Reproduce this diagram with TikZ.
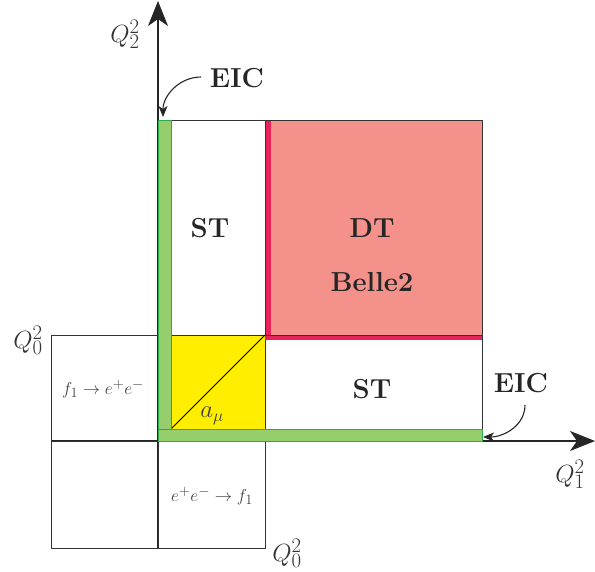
\documentclass[tikz,border=0pt]{standalone}
\usepackage{fontspec}
\usetikzlibrary{arrows.meta}
\definecolor{salmon}{HTML}{F4918A}
\definecolor{crim}{HTML}{E8225A}
\definecolor{bandfill}{HTML}{96CE6E}
\definecolor{bandline}{HTML}{2EA84C}
\definecolor{yel}{HTML}{FFEE00}
\definecolor{gridc}{HTML}{333333}
\tikzset{
  cell/.style={draw=gridc, line width=1pt, inner sep=0pt, outer sep=0pt, rectangle},
  big/.style={font=\fontsize{27.5}{32}\selectfont\bfseries, text=black!85, inner sep=1pt},
  small/.style={font=\fontsize{19}{23}\selectfont, text=black!75, inner sep=1pt},
  amu/.style={font=\fontsize{23}{27}\selectfont, text=black!75, inner sep=1pt},
  qlab/.style={font=\fontsize{29}{33}\selectfont, text=black!80, inner sep=1pt},
  band/.style={fill=bandfill, draw=bandline, line width=1pt},
  axis/.style={line width=1.1pt, black!85, -{Stealth[length=25pt,width=20pt,inset=7pt]}},
  eicarrow/.style={line width=1.1pt, black!85, -{Stealth[length=11pt,width=9pt,inset=3pt]}}
}
\begin{document}
\begin{tikzpicture}[x=1pt,y=-1pt]
\useasboundingbox (0,0) rectangle (595,571);
% axes
\coordinate (yb) at (158,548);
\coordinate (yt) at (158,1);
\coordinate (xl) at (51,441);
\coordinate (xr) at (595,441);
\draw[axis] (yb) -- (yt);
\draw[axis] (xl) -- (xr);
% cells
\node[cell, minimum width=107pt, minimum height=106pt] (lt) at (104.5,388) {};
\node[cell, minimum width=107pt, minimum height=107pt] (lb) at (104.5,494.5) {};
\node[cell, minimum width=107pt, minimum height=107pt] (mb) at (211.5,494.5) {};
\node[cell, fill=yel, minimum width=107pt, minimum height=106pt] (yc) at (211.5,388) {};
\node[cell, minimum width=107pt, minimum height=215pt] (st1) at (211.5,227.5) {};
\node[cell, minimum width=217pt, minimum height=106pt] (st2) at (373.5,388) {};
\node[cell, fill=salmon, draw=none, minimum width=217pt, minimum height=215pt] (dt) at (373.5,227.5) {};
% crimson stripes
\fill[crim] (dt.north west) rectangle ([xshift=6pt]dt.south west);
\fill[crim] ([yshift=-5pt]dt.south west) rectangle (dt.south east);
\draw[gridc, line width=1pt] (dt.north west) rectangle (dt.south east);
% diagonal in yellow
\coordinate (d1) at (171,429);
\draw[black, line width=0.8pt] (d1) -- (yc.north east);
% green bands
\draw[band] (158,120) rectangle (171,441);
\draw[band] (158,429) rectangle (482,441);
% texts
\node[small] (t1) at (103,389) {$f_1\to e^+e^-$};
\node[small] (t2) at (212,496) {$e^+e^-\to f_1$};
\node[amu] (am) at (212,416) {$a_\mu$};
\node[big] (tst1) at (210,228) {ST};
\node[big] (tdt) at (372,228) {DT};
\node[big] (tbe) at (372,282) {Belle2};
\node[big] (tst2) at (372,389) {ST};
\node[qlab] (q2) at (125,34) {$Q_2^2$};
\node[qlab] (q1) at (570,474) {$Q_1^2$};
\node[qlab] (q0a) at (28,340) {$Q_0^2$};
\node[qlab] (q0b) at (287,553) {$Q_0^2$};
% EIC
\node[big] (eic1) at (237,78) {EIC};
\node[big] (eic2) at (521,383) {EIC};
\coordinate (s1) at (201,77);
\coordinate (e1) at (163,117);
\coordinate (s2) at (525,405);
\coordinate (e2) at (483,437);
\draw[eicarrow] (s1) to[out=180,in=90] (e1);
\draw[eicarrow] (s2) to[out=-90,in=0] (e2);
\end{tikzpicture}
\end{document}
